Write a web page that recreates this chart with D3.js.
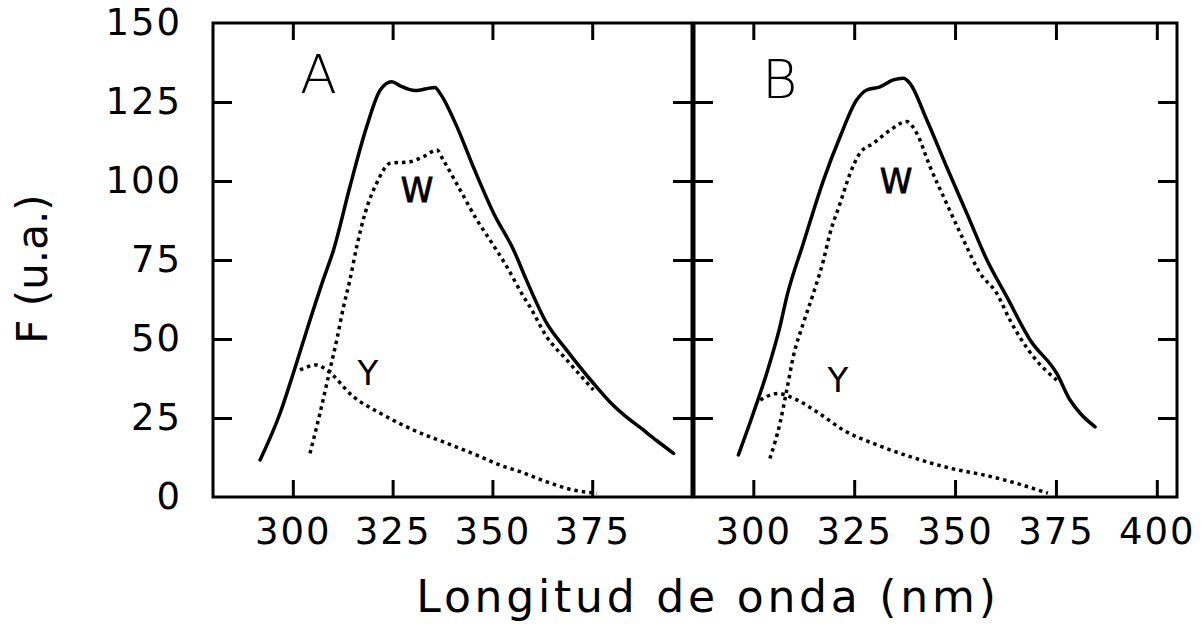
<!DOCTYPE html>
<html>
<head>
<meta charset="utf-8">
<script src="https://cdn.jsdelivr.net/npm/d3@7"></script>
<style>
  html, body { margin: 0; padding: 0; background: #fff; }
  svg { display: block; }
  text { font-family: "DejaVu Sans", sans-serif; fill: #000; }
</style>
</head>
<body>
<svg id="chart" width="1203" height="635"></svg>
<script>
// ---------- DATA ----------
const yTicks = [0, 25, 50, 75, 100, 125, 150];
const xTicksA = [300, 325, 350, 375];
const xTicksB = [300, 325, 350, 375, 400];
const panelLabels = ["A", "B"];
const seriesLabels = ["W", "Y"];
const xTitle = "Longitud de onda (nm)";
const yTitle = "F (u.a.)";

// Panel A - total emission (solid)
const aTotalX = [291.8, 296.8, 300.1, 303.5, 307.6, 310.2, 314.3, 318.5, 321.9, 324.8, 326.9, 330.6, 335.6, 336.9, 341.1, 345.2, 350.3, 355.3, 358.5, 363.6, 368.6, 375.3, 379.5, 383.7, 387.0, 391.2, 395.4];
const aTotalY = [11.7, 26.5, 39.1, 52.8, 68.7, 78.2, 98.2, 117.2, 128.8, 131.4, 130.1, 128.6, 129.6, 127.7, 117.2, 104.5, 89.8, 78.2, 68.7, 55.0, 46.5, 36.0, 30.0, 25.2, 22.0, 17.8, 13.8];
// Panel A - W component (dotted)
const aWX = [304.3, 306.8, 308.9, 311.0, 312.7, 314.3, 316.0, 318.1, 321.0, 324.4, 329.4, 332.7, 336.1, 337.7, 341.9, 346.1, 349.4, 353.6, 357.8, 359.4, 363.6, 368.6, 375.3];
const aWY = [13.8, 26.5, 38.1, 49.7, 60.2, 68.7, 79.2, 89.8, 99.3, 105.6, 106.1, 107.7, 109.8, 106.6, 97.2, 87.7, 81.3, 72.9, 63.4, 60.2, 50.7, 43.4, 33.9];
// Panel A - Y component (dotted)
const aYX = [301.8, 306.0, 308.5, 315.2, 321.9, 330.2, 338.6, 346.9, 351.9, 357.0, 363.6, 370.3, 376.2];
const aYY = [40.2, 41.8, 40.2, 31.7, 26.5, 21.2, 17.0, 12.8, 10.1, 8.0, 4.8, 2.2, 1.2];

// Panel B - total emission (solid)
const bTotalX = [296.3, 300.0, 303.3, 306.6, 308.3, 312.4, 317.4, 321.5, 325.6, 328.1, 331.4, 334.7, 337.2, 338.8, 343.0, 347.9, 352.9, 357.9, 362.8, 368.6, 375.2, 378.5, 381.0, 384.7];
const bTotalY = [13.3, 26.5, 39.1, 53.9, 63.4, 80.3, 100.3, 114.0, 125.6, 128.8, 129.8, 132.0, 132.5, 130.9, 119.3, 104.5, 89.8, 75.0, 63.4, 49.7, 39.1, 30.7, 26.5, 22.2];
// Panel B - W component (dotted)
const bWX = [304.1, 306.6, 308.3, 309.9, 312.4, 314.9, 317.4, 319.0, 321.5, 324.0, 326.4, 329.7, 333.9, 338.0, 340.5, 343.8, 347.9, 352.1, 356.2, 360.3, 363.6, 369.4, 375.2];
const bWY = [12.2, 23.3, 33.9, 44.4, 55.0, 64.5, 75.0, 83.4, 92.9, 102.4, 108.8, 111.9, 116.1, 118.8, 115.1, 104.5, 92.9, 81.3, 70.8, 64.5, 56.0, 44.4, 37.0];
// Panel B - Y component (dotted)
const bYX = [301.7, 306.2, 309.1, 315.7, 322.3, 330.6, 338.8, 348.8, 357.0, 365.3, 373.0];
const bYY = [30.7, 32.8, 31.7, 27.0, 21.2, 16.5, 12.8, 9.1, 7.0, 4.3, 1.2];

// ---------- LAYOUT ----------
const svg = d3.select("#chart");
const plotTop = 23, plotBottom = 497;
const y = d3.scaleLinear().domain([0, 150]).range([plotBottom, plotTop]);

const zip = (xs, ys) => xs.map((v, i) => ({ x: v, y: ys[i] }));

const panels = [
  { label: panelLabels[0], left: 213, right: 692, domain: [280, 400], ticks: xTicksA,
    total: zip(aTotalX, aTotalY), w: zip(aWX, aWY), yy: zip(aYX, aYY),
    labelPos: [300, 93], wPos: [417, 202], yPos: [368, 385] },
  { label: panelLabels[1], left: 694, right: 1177, domain: [285.3, 405], ticks: xTicksB,
    total: zip(bTotalX, bTotalY), w: zip(bWX, bWY), yy: zip(bYX, bYY),
    labelPos: [762, 98], wPos: [896, 193], yPos: [838, 392] }
];

const innerY = yTicks.filter(v => v > 0 && v < 150);

function styleAxis(g) {
  g.select(".domain").remove();
  g.selectAll(".tick line").attr("stroke", "#000").attr("stroke-width", 3);
  g.selectAll(".tick text")
    .style("font-family", "'DejaVu Sans', sans-serif")
    .style("font-size", "37px")
    .style("letter-spacing", "2px")
    .attr("fill", "#000");
}

panels.forEach((p, idx) => {
  const x = d3.scaleLinear().domain(p.domain).range([p.left, p.right]);
  const g = svg.append("g");

  g.append("g").attr("transform", `translate(0,${plotBottom})`)
    .call(d3.axisBottom(x).tickValues(p.ticks).tickSizeInner(-17).tickSizeOuter(0).tickPadding(21))
    .call(styleAxis);
  g.append("g").attr("transform", `translate(0,${plotTop})`)
    .call(d3.axisTop(x).tickValues(p.ticks).tickSizeInner(-17).tickSizeOuter(0).tickFormat(""))
    .call(styleAxis);
  if (idx === 0) {
    g.append("g").attr("transform", `translate(${p.left},0)`)
      .call(d3.axisLeft(y).tickValues(yTicks).tickSizeInner(-19).tickSizeOuter(0).tickPadding(31))
      .call(styleAxis)
      .call(a => a.selectAll(".tick line").filter(d => d === 0 || d === 150).remove());
  } else {
    g.append("g").attr("transform", `translate(${p.left},0)`)
      .call(d3.axisLeft(y).tickValues(innerY).tickSizeInner(-19).tickSizeOuter(0).tickFormat(""))
      .call(styleAxis);
  }
  g.append("g").attr("transform", `translate(${p.right},0)`)
    .call(d3.axisRight(y).tickValues(innerY).tickSizeInner(-19).tickSizeOuter(0).tickFormat(""))
    .call(styleAxis);

  g.append("rect")
    .attr("x", p.left).attr("y", plotTop)
    .attr("width", p.right - p.left).attr("height", plotBottom - plotTop)
    .attr("fill", "none").attr("stroke", "#000").attr("stroke-width", 3);

  const line = d3.line().x(d => x(d.x)).y(d => y(d.y)).curve(d3.curveMonotoneX);

  g.append("path").datum(p.total).attr("d", line)
    .attr("fill", "none").attr("stroke", "#000").attr("stroke-width", 3.5)
    .attr("stroke-linejoin", "round").attr("stroke-linecap", "round");
  g.append("path").datum(p.w).attr("d", line)
    .attr("fill", "none").attr("stroke", "#000").attr("stroke-width", 3.5)
    .attr("stroke-dasharray", "3.5,4");
  g.append("path").datum(p.yy).attr("d", line)
    .attr("fill", "none").attr("stroke", "#000").attr("stroke-width", 3.5)
    .attr("stroke-dasharray", "3.5,4");

  g.append("text").attr("x", p.labelPos[0]).attr("y", p.labelPos[1])
    .style("font-size", "54px").style("font-weight", "200").text(p.label);
  g.append("text").attr("x", p.wPos[0]).attr("y", p.wPos[1]).attr("text-anchor", "middle")
    .style("font-size", "33px").style("stroke", "#000").style("stroke-width", "0.8px").text(seriesLabels[0]);
  g.append("text").attr("x", p.yPos[0]).attr("y", p.yPos[1]).attr("text-anchor", "middle")
    .style("font-size", "34px").text(seriesLabels[1]);
});

svg.append("text").attr("x", 708).attr("y", 612).attr("text-anchor", "middle")
  .style("font-size", "44px").style("letter-spacing", "3.8px").text(xTitle);
svg.append("text").attr("transform", "translate(47,269) rotate(-90)").attr("text-anchor", "middle")
  .style("font-size", "42px").style("letter-spacing", "0px").text(yTitle);
</script>
</body>
</html>
